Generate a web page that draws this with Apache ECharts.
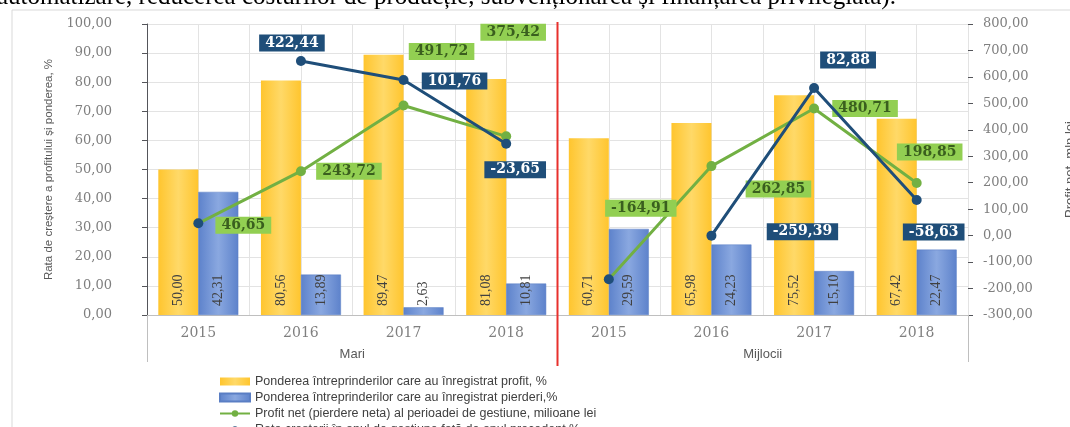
<!DOCTYPE html>
<html>
<head>
<meta charset="utf-8">
<script src="https://cdn.jsdelivr.net/npm/echarts@6/dist/echarts.min.js"></script>
<style>
html, body { margin: 0; padding: 0; background: #fff; }
#chart { width: 1070px; height: 427px; }
</style>
</head>
<body>
<div id="chart"></div>
<script>
var years = ['2015', '2016', '2017', '2018', '2015', '2016', '2017', '2018']
var groups = ['Mari', 'Mijlocii']
var profitShare = [50.00, 80.56, 89.47, 81.08, 60.71, 65.98, 75.52, 67.42]
var lossShare = [42.31, 13.89, 2.63, 10.81, 29.59, 24.23, 15.10, 22.47]
var netProfit = [46.65, 243.72, 491.72, 375.42, -164.91, 262.85, 480.71, 198.85]
// labels of the growth rate line
var growthRate = [null, 422.44, 101.76, -23.65, null, -259.39, 82.88, -58.63]
// where the growth rate points are drawn in the picture, read on the right axis
var growthLevel = [null, 660, 588, 347, null, 0, 558, 135]
var leftAxis = [0, 100, 10]
var rightAxis = [-300, 800, 100]

var names = [
	'Ponderea întreprinderilor care au înregistrat profit, %',
	'Ponderea întreprinderilor care au înregistrat pierderi,%',
	'Profit net (pierdere neta) al perioadei de gestiune, milioane lei',
	'Rata cresterii în anul de gestiune față de anul precedent,%'
]

var GREEN = '#72B043'
var BLUE = '#1F4E79'

// manual label placement, as in the original
var greenOffsets = [[45, 2], [48, 0], [38, -54], [7, -104], [32, -71], [67, 23], [51, 0], [13, -31]]
var blueOffsets = [null, [-9, -18], [51, 1], [9, 26], null, [91, -4], [34, -28], [17, 32]]

function fmt(v) {
	return v.toFixed(2).replace('.', ',')
}

function part(arr, g, build) {
	return arr.map(function (v, i) {
		if (Math.floor(i / 4) !== g || v === null) return '-'
		return build ? build(v, i) : v
	})
}

function grad(edge, mid) {
	return new echarts.graphic.LinearGradient(0, 0, 1, 0, [
		{ offset: 0, color: edge },
		{ offset: 0.5, color: mid },
		{ offset: 1, color: edge }
	])
}

var barLabel = {
	show: true,
	position: 'insideBottom',
	rotate: 90,
	align: 'left',
	verticalAlign: 'middle',
	distance: 9,
	fontFamily: 'Liberation Serif',
	fontSize: 14,
	color: '#404040',
	formatter: function (p) { return fmt(p.value) }
}

var boxLabel = {
	show: true,
	position: 'inside',
	fontFamily: 'DejaVu Serif',
	fontWeight: 'bold',
	fontSize: 14,
	padding: [2, 6, 1, 6]
}

function greenSeries(g) {
	return {
		name: names[2],
		type: 'line',
		yAxisIndex: 1,
		symbol: 'circle',
		symbolSize: 10,
		lineStyle: { color: GREEN, width: 3 },
		itemStyle: { color: GREEN },
		z: 3,
		data: part(netProfit, g, function (v, i) {
			var item = {
				value: v,
				label: Object.assign({}, boxLabel, {
					offset: greenOffsets[i],
					formatter: fmt(v),
					backgroundColor: '#92CF52',
					color: '#3A5F1E'
				})
			}
			if (i % 4 === 0) item.itemStyle = { color: BLUE }
			return item
		})
	}
}

function blueSeries(g) {
	return {
		name: names[3],
		type: 'line',
		yAxisIndex: 1,
		symbol: 'circle',
		symbolSize: 10,
		lineStyle: { color: BLUE, width: 3 },
		itemStyle: { color: BLUE },
		z: 4,
		data: part(growthLevel, g, function (v, i) {
			return {
				value: v,
				label: Object.assign({}, boxLabel, {
					offset: blueOffsets[i],
					formatter: fmt(growthRate[i]),
					backgroundColor: BLUE,
					color: '#fff'
				})
			}
		})
	}
}

var chart = echarts.init(document.getElementById('chart'))

chart.setOption({
	animation: false,
	grid: { left: 147, right: 102, top: 24, bottom: 112, containLabel: false, outerBoundsMode: 'none' },
	legend: {
		orient: 'vertical',
		left: 214,
		top: 370,
		height: 90,
		itemWidth: 30,
		itemHeight: 8,
		itemGap: 3,
		textStyle: { fontFamily: 'Liberation Sans', fontSize: 12.5, color: '#404040' },
		data: [
			{ name: names[0], icon: 'rect' },
			{ name: names[1], icon: 'rect' },
			names[2],
			names[3]
		]
	},
	xAxis: [
		{
			type: 'category',
			data: years,
			axisLine: { lineStyle: { color: '#bfbfbf' } },
			axisTick: { show: false },
			axisLabel: { margin: 11, fontFamily: 'DejaVu Serif', fontSize: 14, color: '#7f7f7f' }
		},
		{
			type: 'value',
			position: 'top',
			min: 0,
			max: 16,
			interval: 1,
			axisLine: { show: false },
			axisTick: { show: false },
			axisLabel: { show: false },
			splitLine: { show: true, lineStyle: { color: '#e3e3e3' } }
		},
		{
			type: 'category',
			position: 'bottom',
			data: groups,
			axisLine: { show: false },
			axisTick: { show: true, length: 47, lineStyle: { color: '#bfbfbf' } },
			axisLabel: { margin: 33, fontFamily: 'Liberation Sans', fontSize: 13, color: '#595959' }
		}
	],
	yAxis: [
		{
			type: 'value',
			min: leftAxis[0],
			max: leftAxis[1],
			interval: leftAxis[2],
			name: 'Rata de creștere a profitului și ponderea, %',
			nameLocation: 'middle',
			nameRotate: 90,
			nameGap: 92,
			nameTextStyle: { fontFamily: 'Liberation Sans', fontSize: 11.5, color: '#595959' },
			axisLabel: { margin: 35, fontFamily: 'DejaVu Serif', fontSize: 13, color: '#7f7f7f', formatter: fmt },
			splitLine: { lineStyle: { color: '#e3e3e3' } }
		},
		{
			type: 'value',
			position: 'right',
			min: rightAxis[0],
			max: rightAxis[1],
			interval: rightAxis[2],
			name: 'Profit net, mln.lei',
			nameLocation: 'middle',
			nameRotate: 90,
			nameGap: 96,
			nameTextStyle: { fontFamily: 'Liberation Sans', fontSize: 13, color: '#595959' },
			axisLine: { show: false },
			axisLabel: { margin: 15, fontFamily: 'DejaVu Serif', fontSize: 13, color: '#7f7f7f', formatter: fmt },
			splitLine: { show: false }
		}
	],
	series: [
		{
			name: names[0],
			type: 'bar',
			barWidth: 40,
			barGap: '0%',
			itemStyle: { color: grad('#FFC52E', '#FFD968') },
			label: barLabel,
			data: profitShare
		},
		{
			name: names[1],
			type: 'bar',
			barWidth: 40,
			itemStyle: { color: grad('#5D82CB', '#8AA8E0'), borderColor: '#5A7EC4', borderWidth: 0.5 },
			label: barLabel,
			data: lossShare
		},
		greenSeries(0),
		greenSeries(1),
		blueSeries(0),
		blueSeries(1)
	]
})

// red separator between the two groups, placed through the axes
var sepX = chart.convertToPixel({ xAxisIndex: 1 }, 8)
var topY = chart.convertToPixel({ yAxisIndex: 0 }, leftAxis[1])
var baseY = chart.convertToPixel({ yAxisIndex: 0 }, leftAxis[0])

chart.setOption({
	graphic: [
		{
			type: 'rect',
			shape: { x: 12, y: 10, width: 1100, height: 500 },
			style: { fill: 'none', stroke: '#d9d9d9', lineWidth: 1 },
			z: -1
		},
		{
			type: 'text',
			left: -3,
			top: -15,
			style: {
				text: 'automatizare, reducerea costurilor de producție, subvenționarea și finanțarea privilegiată).',
				font: '25px "Liberation Serif"',
				fill: '#000'
			}
		},
		{
			type: 'line',
			shape: { x1: sepX, y1: topY - 2, x2: sepX, y2: baseY + 51 },
			style: { stroke: '#E8302C', lineWidth: 2 },
			z: 10
		}
	]
})
</script>
</body>
</html>
